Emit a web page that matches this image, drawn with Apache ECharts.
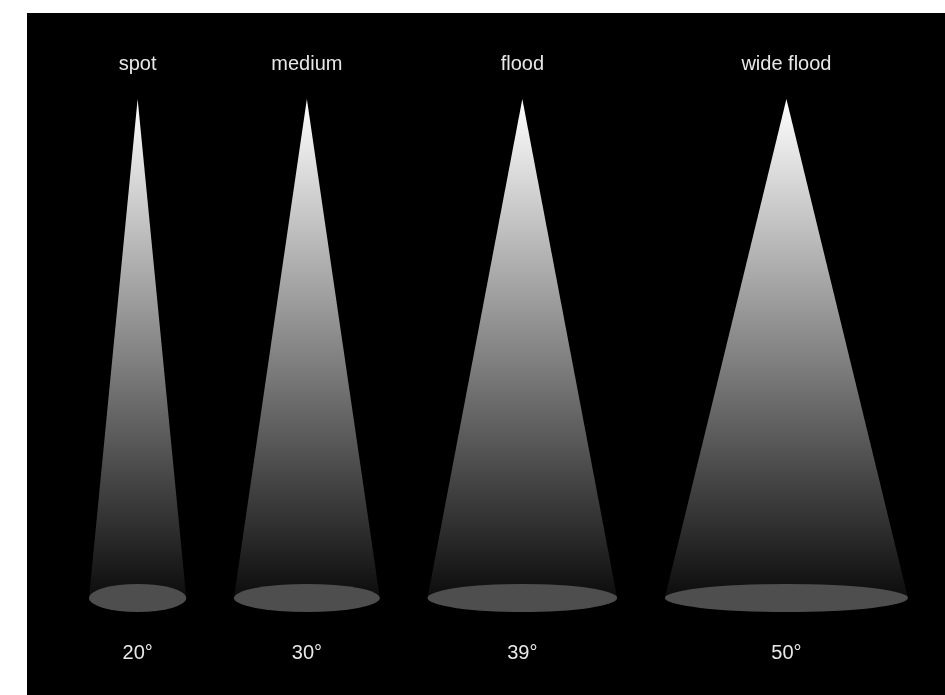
<!DOCTYPE html>
<html>
<head>
<meta charset="utf-8">
<script src="https://cdn.jsdelivr.net/npm/echarts@6/dist/echarts.min.js"></script>
<style>
  html, body { margin: 0; padding: 0; background: #fff; }
  #chart { position: absolute; left: 27px; top: 13px; width: 918px; height: 682px; background: #000; }
</style>
</head>
<body>
<div id="chart"></div>
<script>
const categories = ["spot", "medium", "flood", "wide flood"];
const beamAngles = [20, 30, 39, 50];
const angleLabels = ["20°", "30°", "39°", "50°"];

// space between neighbouring beams, in the same units as the angles
const gap = 19.6;

// each beam is as wide as its angle on both sides of its centre
const centers = [];
let pos = 0;
beamAngles.forEach((a, i) => {
  if (i > 0) pos += gap;
  pos += a;
  centers.push(pos);
  pos += a;
});
const xMax = pos;

const seriesData = beamAngles.map((a, i) => [centers[i], a, categories[i], angleLabels[i]]);

const chartDom = document.getElementById("chart");
const chart = echarts.init(chartDom);

const renderItem = (params, api) => {
  const c = api.value(0);
  const a = api.value(1);
  const apex = api.coord([c, 1]);
  const left = api.coord([c - a, 0]);
  const right = api.coord([c + a, 0]);
  const rx = (right[0] - left[0]) / 2;
  const ry = 14;
  const font = '20px "Liberation Sans", Arial, sans-serif';
  return {
    type: "group",
    children: [
      {
        type: "polygon",
        shape: { points: [apex, right, left] },
        style: {
          fill: new echarts.graphic.LinearGradient(0, 0, 0, 1, [
            { offset: 0, color: "#ffffff" },
            { offset: 1, color: "#0c0c0c" },
          ]),
        },
      },
      {
        type: "circle",
        x: (left[0] + right[0]) / 2,
        y: left[1],
        scaleY: ry / rx,
        shape: { cx: 0, cy: 0, r: rx },
        style: { fill: "#4e4e4e" },
      },
      {
        type: "text",
        x: apex[0],
        y: apex[1] - 35,
        style: {
          text: categories[params.dataIndex],
          fill: "#e8e8e8",
          font: font,
          align: "center",
          verticalAlign: "middle",
        },
      },
      {
        type: "text",
        x: apex[0],
        y: left[1] + 55,
        style: {
          text: angleLabels[params.dataIndex],
          fill: "#e8e8e8",
          font: font,
          align: "center",
          verticalAlign: "middle",
        },
      },
    ],
  };
};

const option = {
  backgroundColor: "#000",
  animation: false,
  grid: { left: 62, right: 37, top: 86, bottom: 97 },
  xAxis: { type: "value", min: 0, max: xMax, show: false },
  yAxis: { type: "value", min: 0, max: 1, show: false },
  series: [
    {
      type: "custom",
      renderItem: renderItem,
      data: seriesData,
      clip: false,
    },
  ],
};

chart.setOption(option);
</script>
</body>
</html>
